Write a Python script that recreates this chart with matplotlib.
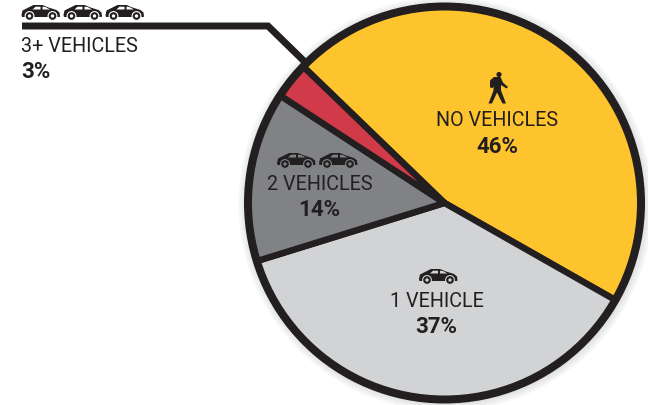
import matplotlib
matplotlib.use('Agg')
import matplotlib.pyplot as plt
from matplotlib.patches import Polygon, Circle

plt.rcParams['font.family'] = ['Roboto', 'DejaVu Sans']

labels = ['NO VEHICLES', '1 VEHICLE', '2 VEHICLES', '3+ VEHICLES']
shares = [46, 37, 14, 3]
share_text = ['46%', '37%', '14%', '3%']
colors = ['#fec42d', '#d1d3d4', '#808285', '#d13a48']
dark = '#231f20'

W, H = 648, 406
cx0, cy0, rad = 444.5, H - 204, 196.5

fig = plt.figure(figsize=(W / 100, H / 100), dpi=100)
ax = fig.add_axes([0, 0, 1, 1])

# faint shadow round the pie
for r in (207, 205, 203, 201):
    ax.add_patch(Circle((cx0 + 1, cy0 - 1), r, fc='#6d6e71', ec='none', alpha=0.05, zorder=0))

ax.pie(shares, colors=colors, startangle=136, counterclock=False,
       center=(cx0, cy0), radius=rad, frame=True,
       wedgeprops=dict(edgecolor=dark, linewidth=4.6, joinstyle='miter', zorder=1))
ax.add_patch(Circle((cx0, cy0), rad, fc='none', ec=dark, lw=5.76, zorder=3))
ax.set_xlim(0, W)
ax.set_ylim(0, H)
ax.set_aspect('equal')
ax.axis('off')


def py(y):
    return H - y


# car glyph, x is left edge, y is wheel bottom in picture pixels
def car(x, y, bg='white'):
    outline = [(0, 5), (1, 9.5), (5, 11.5), (12, 15), (21, 15), (27, 12.5), (35, 10),
               (38, 7.5), (38.5, 3.5), (38, 3), (0.5, 3)]
    ax.add_patch(Polygon([(x + a, py(y) + b) for a, b in outline], closed=True,
                         fc=dark, ec='none', zorder=5))
    win1 = [(11, 10.5), (14, 13.3), (19, 13.3), (19, 10.5)]
    win2 = [(21, 10.5), (21, 13.3), (24, 13), (28.5, 10.5)]
    for w in (win1, win2):
        ax.add_patch(Polygon([(x + a, py(y) + b) for a, b in w], closed=True,
                             fc=bg, ec='none', zorder=6))
    for cx in (8, 31):
        ax.add_patch(Circle((x + cx, py(y) + 4), 4.4, fc=dark, ec=bg, lw=0.8, zorder=7))
        ax.add_patch(Circle((x + cx, py(y) + 4), 1.7, fc=bg, ec='none', zorder=8))


def walker(x, y):
    # x is the body centre, y the foot level in picture pixels
    ax.add_patch(Circle((x + 2, py(y) + 29), 2.6, fc=dark, ec='none', zorder=5))
    body = [(-3, 26.5), (3.5, 26.5), (6, 21), (11, 16.5), (9.5, 15), (4, 18.5), (4, 13), (9, 0),
            (5.5, 0), (0, 11), (-5, 0), (-8.5, 0), (-3.5, 13), (-3.5, 17), (-4.5, 15.5), (-7, 16), (-7, 23)]
    ax.add_patch(Polygon([(x + a, py(y) + b) for a, b in body], closed=True,
                         fc=dark, ec='none', zorder=5))


# leader line for the small slice
ax.plot([22, 268, 307], [py(27), py(27), py(65)], color=dark, lw=5,
        solid_joinstyle='miter', solid_capstyle='butt', zorder=4)

# names and shares, placed on their baselines in picture pixels
name_size = 14.2
share_size = 16
ax.text(497, py(126), labels[0], ha='center', va='baseline', fontsize=name_size, color=dark)
ax.text(497, py(153), share_text[0], ha='center', va='baseline', fontsize=share_size, color=dark, weight='bold')
ax.text(436.7, py(307), labels[1], ha='center', va='baseline', fontsize=name_size, color=dark)
ax.text(436.7, py(333), share_text[1], ha='center', va='baseline', fontsize=share_size, color=dark, weight='bold')
ax.text(319.5, py(190), labels[2], ha='center', va='baseline', fontsize=name_size, color=dark)
ax.text(319.5, py(216), share_text[2], ha='center', va='baseline', fontsize=share_size, color=dark, weight='bold')
ax.text(21, py(52), labels[3], ha='left', va='baseline', fontsize=name_size, color=dark)
ax.text(21, py(78), share_text[3], ha='left', va='baseline', fontsize=share_size, color=dark, weight='bold')

for cx in (21.5, 63.5, 105.5):
    car(cx, 21)
for cx in (277, 319):
    car(cx, 169, bg='#808285')
car(419, 285, bg='#d1d3d4')
walker(497, 104.5)

fig.savefig('out.png', dpi=100)
